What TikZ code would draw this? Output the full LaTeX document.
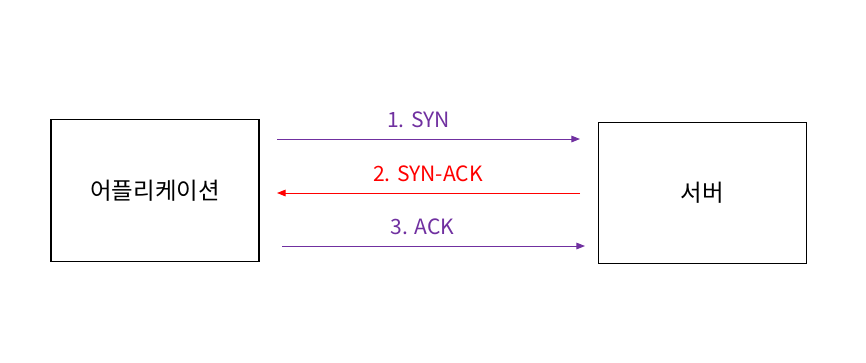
\documentclass[tikz,border=0pt]{standalone}
\usepackage{fontspec}
\setmainfont{Noto Sans CJK KR}
\usepackage{xcolor}
\usetikzlibrary{positioning,arrows.meta}
\definecolor{synpurple}{HTML}{7030A0}
\definecolor{ackred}{HTML}{FF0000}

\begin{document}
\begin{tikzpicture}[x=0.75pt,y=-0.75pt,font=\fontsize{17.6}{21}\selectfont,
  >={Triangle[length=6.5pt,width=5pt]},
  bx/.style={draw,line width=0.8pt,minimum width=156pt,minimum height=106pt,inner sep=0pt},
  msg/.style={->,line width=0.75pt},
  lbl/.style={anchor=base,inner sep=0pt,font=\fontsize{15.8}{19}\selectfont}]
\useasboundingbox (0,0) rectangle (866,362);
% endpoints
\node[bx] (app) at (155,190.5) {어플리케이션};
\node[bx] (srv) at (702.5,193) {서버};
\coordinate (a1) at (277,139); \coordinate (b1) at (580,139);
\coordinate (a2) at (277,193); \coordinate (b2) at (580,193);
\coordinate (a3) at (282,246); \coordinate (b3) at (585,246);
% handshake
\draw[msg,synpurple] (a1) -- (b1);
\draw[msg,ackred] (b2) -- (a2);
\draw[msg,synpurple] (a3) -- (b3);
\node[lbl,text=synpurple] (l1) at (418.5,127) {1. SYN};
\node[lbl,text=ackred] (l2) at (428,181) {2. SYN-ACK};
\node[lbl,text=synpurple] (l3) at (422.5,234) {3. ACK};
\end{tikzpicture}
\end{document}
